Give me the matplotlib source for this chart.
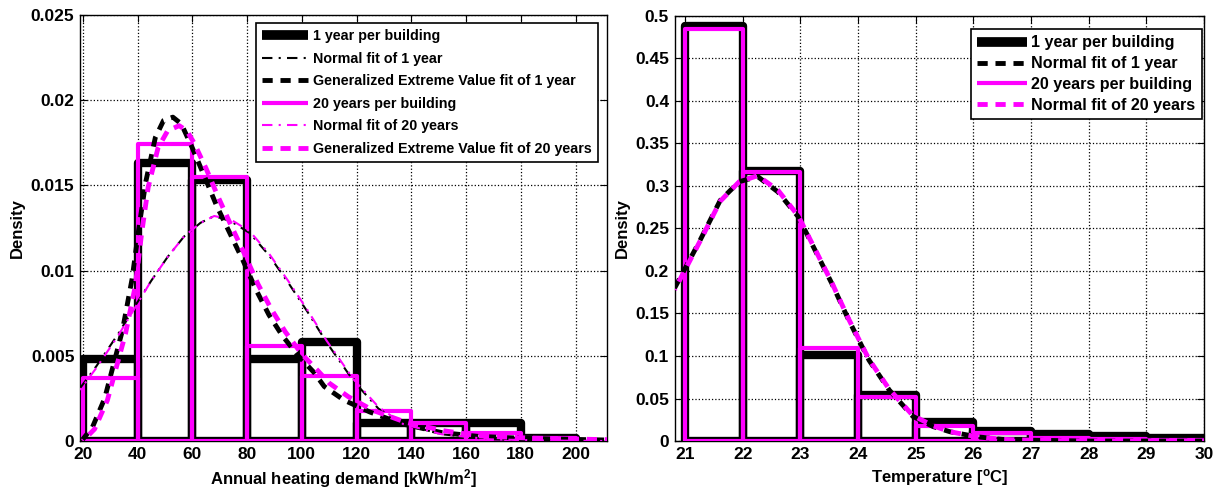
import numpy as np
import matplotlib.pyplot as plt
from matplotlib.lines import Line2D
from matplotlib.ticker import FuncFormatter

plt.rcParams['font.family'] = ['Liberation Sans', 'DejaVu Sans']
plt.rcParams['font.weight'] = 'bold'
plt.rcParams['mathtext.fontset'] = 'custom'
plt.rcParams['mathtext.bf'] = 'Liberation Sans:bold'
plt.rcParams['mathtext.rm'] = 'Liberation Sans:bold'
plt.rcParams['mathtext.default'] = 'bf'

MAG = '#ff00ff'

# ---- left panel: annual heating demand ----
heat_edges = [20, 40, 60, 80, 100, 120, 140, 160, 180, 200]
heat_1yr = [0.0048, 0.0163, 0.0153, 0.0048, 0.0058, 0.00105, 0.00105, 0.00105, 0.0002]
heat_20yr = [0.0037, 0.0174, 0.0155, 0.0056, 0.0038, 0.00176, 0.00104, 0.0005, 0.0002]

norm1_x = [19, 25, 33, 39, 45, 51, 57, 63, 68, 74, 81, 88, 95, 102, 109, 119, 128, 137, 151, 169, 190, 212]
norm1_y = [0.0031, 0.0044, 0.0063, 0.0079, 0.0094, 0.0108, 0.0120, 0.0128, 0.0132, 0.0129, 0.0122, 0.0109, 0.0093, 0.0076, 0.0058, 0.0035, 0.0019, 0.0010, 0.0004, 0.0001, 0.00003, 0.0]
norm20_x = [19, 25, 33, 39, 45, 51, 57, 63, 68, 74, 81, 88, 95, 102, 109, 119, 128, 137, 151, 169, 190, 212]
norm20_y = [0.0030, 0.0043, 0.0062, 0.0078, 0.0094, 0.0108, 0.0120, 0.0128, 0.0132, 0.0130, 0.0123, 0.0110, 0.0094, 0.0077, 0.0059, 0.0036, 0.0020, 0.0010, 0.0004, 0.0001, 0.00003, 0.0]

gev1_x = [19.5, 23.5, 28, 34.5, 38, 40.5, 43, 46.5, 49.5, 52.9, 56, 60, 64.5, 68.9, 73.7, 78.5, 83.2, 88, 92.8, 98.7,
          104.6, 108.2, 115.4, 124.9, 136.8, 151, 164, 180.7, 204.6, 212]
gev1_y = [0.0, 0.0008, 0.0025, 0.0065, 0.0095, 0.0125, 0.0152, 0.0178, 0.0188, 0.0190, 0.0186, 0.0172, 0.0155, 0.0138,
          0.0122, 0.0106, 0.0089, 0.0074, 0.0062, 0.0050, 0.0040, 0.0032, 0.0024, 0.0017, 0.0010, 0.0005, 0.00028,
          0.00016, 0.00008, 0.00006]
gev20_x = [20, 24.3, 29, 35.6, 39.2, 41.5, 43.9, 47.5, 51, 55.2, 58, 60.6, 65, 69.5, 74, 79, 84, 89, 94, 100, 106, 110,
           117, 126, 138, 152, 165, 182, 205, 212]
gev20_y = [0.0, 0.0007, 0.0024, 0.0063, 0.0091, 0.0122, 0.0149, 0.0172, 0.0182, 0.0185, 0.0182, 0.0175, 0.0160, 0.0143,
           0.0127, 0.0110, 0.0092, 0.0077, 0.0064, 0.0051, 0.0041, 0.0034, 0.0026, 0.0018, 0.0011, 0.0006, 0.0003,
           0.00018, 0.0001, 0.00008]

# ---- right panel: temperature ----
temp_edges = [21, 22, 23, 24, 25, 26, 27, 28, 29, 30]
temp_1yr = [0.488, 0.318, 0.101, 0.054, 0.0227, 0.0118, 0.0078, 0.0059, 0.003]
temp_20yr = [0.485, 0.316, 0.109, 0.0514, 0.0176, 0.0098, 0.0031, 0.002, 0.0018]

tnorm_x = [20.82, 21.26, 21.61, 21.94, 22.26, 22.61, 22.96, 23.25, 23.54, 23.84, 24.07, 24.19, 24.54, 24.95, 25.3,
           25.59, 26.06, 26.5, 27, 28, 29, 30]
tnorm1_y = [0.180, 0.236, 0.283, 0.305, 0.311, 0.293, 0.264, 0.225, 0.186, 0.142, 0.111, 0.095, 0.060, 0.029, 0.017,
            0.011, 0.005, 0.002, 0.001, 0.0, 0.0, 0.0]
tnorm20_y = [0.178, 0.235, 0.282, 0.305, 0.312, 0.295, 0.265, 0.226, 0.187, 0.143, 0.112, 0.096, 0.061, 0.030, 0.018,
             0.011, 0.005, 0.002, 0.001, 0.0, 0.0, 0.0]

DASH = (2.1, 1.6)          # in units of line width
DASH_M = (1.85, DASH)      # magenta shifted half a period
DASHDOT = (0, (5, 3, 1, 3))

fig = plt.figure(figsize=(12.2, 4.95), dpi=100)
ax1 = fig.add_axes([0.0656, 0.109, 0.432, 0.861])
ax2 = fig.add_axes([0.553, 0.109, 0.434, 0.859])

fmt = FuncFormatter(lambda v, p: '%g' % round(v, 6))


def hist_bars(ax, edges, vals, color, lw, z):
    w = np.diff(edges)
    ax.bar(edges[:-1], vals, width=w, align='edge', fill=False, edgecolor=color,
           linewidth=lw, joinstyle='round', zorder=z)


def style(ax):
    ax.grid(True, linestyle=':', color='black', linewidth=0.9)
    ax.set_axisbelow(True)
    ax.tick_params(direction='in', top=True, right=True, length=5, width=0.8, labelsize=12.5, pad=4)
    for s in ax.spines.values():
        s.set_linewidth(1.0)
    ax.yaxis.set_major_formatter(fmt)
    ax.set_ylabel('Density', fontsize=12, fontweight='bold')


def lh(color, ls, lw):
    return Line2D([], [], color=color, linestyle=ls, linewidth=lw,
                  solid_capstyle='butt', dash_capstyle='butt')


# left
hist_bars(ax1, heat_edges, heat_1yr, 'black', 6.0, 2)
hist_bars(ax1, heat_edges, heat_20yr, MAG, 3.0, 3)
ax1.plot(norm1_x, norm1_y, color='black', linestyle=DASHDOT, linewidth=1.5, zorder=4)
ax1.plot(gev1_x, gev1_y, color='black', linestyle=(0, DASH), linewidth=3.5, zorder=4, dash_capstyle='butt')
ax1.plot(norm20_x, norm20_y, color=MAG, linestyle=(4, (5, 3, 1, 3)), linewidth=1.5, zorder=5)
ax1.plot(gev20_x, gev20_y, color=MAG, linestyle=DASH_M, linewidth=3.5, zorder=5, dash_capstyle='butt')
ax1.set_xlim(19, 211.5)
ax1.set_ylim(0, 0.025)
ax1.set_xticks(range(20, 201, 20))
ax1.set_yticks(np.arange(0, 0.0251, 0.005))
style(ax1)
ax1.set_xlabel('Annual heating demand [kWh/m$^2$]', fontsize=12, fontweight='bold')

h1 = [lh('black', '-', 7), lh('black', DASHDOT, 1.5), lh('black', (0, DASH), 3.5),
      lh(MAG, '-', 3), lh(MAG, DASHDOT, 1.5), lh(MAG, (0, DASH), 3.5)]
l1 = ['1 year per building', 'Normal fit of 1 year', 'Generalized Extreme Value fit of 1 year',
      '20 years per building', 'Normal fit of 20 years', 'Generalized Extreme Value fit of 20 years']
leg1 = ax1.legend(h1, l1, loc='upper right', bbox_to_anchor=(0.983, 0.982), borderaxespad=0,
                  fontsize=10.3, handlelength=3.2, labelspacing=0.6, handletextpad=0.35,
                  fancybox=False, framealpha=1, edgecolor='black', borderpad=0.45)
leg1.get_frame().set_linewidth(1.2)

# right
hist_bars(ax2, temp_edges, temp_1yr, 'black', 6.0, 2)
hist_bars(ax2, temp_edges, temp_20yr, MAG, 3.0, 3)
ax2.plot(tnorm_x, tnorm1_y, color='black', linestyle=(0, DASH), linewidth=3.5, zorder=4, dash_capstyle='butt')
ax2.plot(tnorm_x, tnorm20_y, color=MAG, linestyle=DASH_M, linewidth=3.5, zorder=5, dash_capstyle='butt')
ax2.set_xlim(20.82, 30)
ax2.set_ylim(0, 0.5)
ax2.set_xticks(range(21, 31))
ax2.set_yticks(np.arange(0, 0.501, 0.05))
style(ax2)
ax2.set_xlabel('Temperature [$^o$C]', fontsize=12, fontweight='bold')

h2 = [lh('black', '-', 7), lh('black', (0, DASH), 3.5), lh(MAG, '-', 3), lh(MAG, (0, DASH), 3.5)]
l2 = ['1 year per building', 'Normal fit of 1 year', '20 years per building', 'Normal fit of 20 years']
leg2 = ax2.legend(h2, l2, loc='upper right', bbox_to_anchor=(0.996, 0.969), borderaxespad=0,
                  fontsize=11.6, handlelength=3.05, labelspacing=0.36, handletextpad=0.3,
                  fancybox=False, framealpha=1, edgecolor='black', borderpad=0.4)
leg2.get_frame().set_linewidth(1.2)

fig.savefig('out.png', dpi=100)
